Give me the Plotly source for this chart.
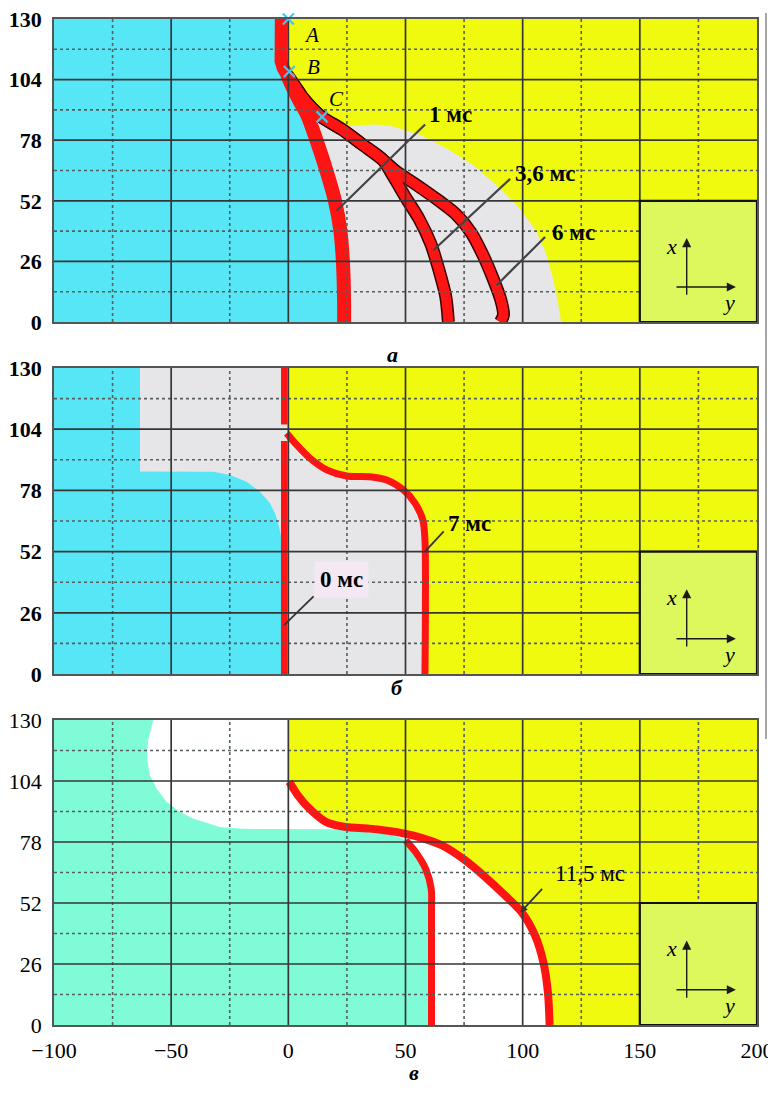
import plotly.graph_objects as go

# ---------------- data ----------------
x_tick_vals = [-100, -50, 0, 50, 100, 150, 200]
y_tick_vals = [0, 26, 52, 78, 104, 130]
x_major = [-50, 0, 50, 100, 150]
y_major = [26, 52, 78, 104]
x_minor = [-75, -25, 25, 75, 125, 175]
y_minor = [13, 39, 65, 91, 117]

# panel а
a_AB_x = [-3.0, -3.4, -2.8, -3.6, -3.1, -2.2, -0.5]
a_AB_y = [130, 125, 120, 116, 112, 109, 106]
a_1ms_x = [-0.5, 1.4, 4.9, 8.0, 11.9, 16.3, 19.9, 22.2, 23.3, 23.8, 23.8]
a_1ms_y = [106, 101.7, 94.6, 89.0, 78.3, 64.8, 52.0, 39.2, 25.7, 8.5, 0]
a_BC_x = [-0.5, 3.0, 5.8, 10.1, 14.4, 22.9, 31.5, 40.1]
a_BC_y = [106, 101, 96.8, 91.8, 87.8, 82.6, 76.2, 69.8]
a_36_x = [45.1, 50.1, 55.8, 60.8, 64.3, 67.2, 68.3]
a_36_y = [61.9, 53.4, 44.2, 33.5, 22.2, 10.8, 0]
a_6_x = [45.8, 54.3, 64.3, 71.5, 77.9, 82.8, 87.1, 90.7, 91.8, 90.5]
a_6_y = [64.8, 59.1, 52.0, 46.3, 38.5, 29.3, 19.3, 9.4, 3.0, 0]
a_grey_edge_x = [22.0, 24.4, 37.2, 44.3, 55.8, 67.2, 78.6, 90.0, 98.5, 105.7, 110.0, 112.8, 114.9, 116.4]
a_grey_edge_y = [85.5, 84.0, 84.7, 84.0, 80.4, 74.7, 67.6, 57.7, 49.1, 39.2, 29.3, 19.3, 9.4, 0]
a_pts_x = [0, 0.4, 14.4]
a_pts_y = [130, 107.5, 88.0]
a_pts_lbl = ["A", "B", "C"]

# panel б
b_0ms_x = [-1.75, -1.75, None, -1.75, -1.75]
b_0ms_y = [0, 99, None, 106, 130]
b_7ms_x = [-0.7, 3.6, 9.3, 16.4, 24.9, 34.9, 42.0, 49.1, 54.1, 57.4, 58.3, 58.3]
b_7ms_y = [102.3, 97.3, 91.6, 86.7, 84.1, 83.8, 82.4, 78.2, 72.5, 65.4, 56.9, 0]
b_cyan_x = [-100, -100, -63.3, -63.3, -32.0, -24.9, -17.8, -12.1, -7.8, -5.7, -4.3, -3.0, -3.0]
b_cyan_y = [0, 130, 130, 86.0, 85.9, 84.5, 81.7, 77.4, 72.5, 68.3, 64.0, 58.0, 0]
b_grey_left = -63.3

# panel в
c_outer_x = [0.4, 4.0, 8.9, 16.0, 24.5, 34.5, 45.8, 55.7, 65.7, 75.6, 84.1, 92.6, 99.7, 105.4, 108.9, 110.8, 111.5]
c_outer_y = [103.7, 98.0, 92.3, 86.6, 84.4, 83.7, 82.3, 80.1, 76.5, 70.1, 63.0, 55.1, 47.9, 37.9, 26.5, 13.6, 0]
c_inner_x = [50.1, 54.3, 58.6, 61.0, 61.1, 61.1]
c_inner_y = [78.7, 73.7, 66.5, 57.9, 49.4, 0]
c_cyan_edge_x = [-57.7, -59.9, -60.3, -59.1, -56.3, -52.0, -46.4, -40.7, -33.6, -29.4, -20.0, 25.0, 38.0, 46.0]
c_cyan_edge_y = [130, 120.9, 113.7, 106.6, 100.9, 95.1, 90.9, 88.0, 85.8, 84.4, 83.6, 83.4, 82.5, 80.5]
c_white_left = -61.0

# inset (coordinate-axes sketch)
inset_x = [150, 200, 200, 150, 150]
inset_y = [0, 0, 52, 52, 0]

# ---------------- style ----------------
FONT = "Liberation Serif"
RED = "#ff1414"
DARKRED = "#3a0000"
YELLOW = "#f0fa0e"
CYAN = "#56e6f6"
AQUA = "#80fbd8"
GREY = "#e6e6e8"
WHITE = "#ffffff"
INSET = "#dcf85c"
GRID = "#363636"
MINOR = "#55605e"

fig = go.Figure()


def axn(n):
    return ("x" if n == 1 else f"x{n}", "y" if n == 1 else f"y{n}")


def poly(n, xs, ys, color):
    xa, ya = axn(n)
    fig.add_trace(go.Scatter(x=xs, y=ys, fill="toself", fillcolor=color, mode="lines",
                             line=dict(width=0, color=color), xaxis=xa, yaxis=ya,
                             hoverinfo="skip", showlegend=False))


def curve(n, xs, ys, width, color=RED, shape="spline"):
    xa, ya = axn(n)
    fig.add_trace(go.Scatter(x=xs, y=ys, mode="lines",
                             line=dict(width=width, color=color, shape=shape, smoothing=0.8),
                             xaxis=xa, yaxis=ya, hoverinfo="skip", showlegend=False,
                             connectgaps=False))


def grid(n):
    xa, ya = axn(n)
    mx, my = [], []
    for v in x_major:
        mx += [v, v, None]
        my += [0, 130, None]
    for v in y_major:
        mx += [-100, 200, None]
        my += [v, v, None]
    nx, ny = [], []
    for v in x_minor:
        nx += [v, v, None]
        ny += [0, 130, None]
    for v in y_minor:
        nx += [-100, 200, None]
        ny += [v, v, None]
    fig.add_trace(go.Scatter(x=nx, y=ny, mode="lines", line=dict(width=1.6, color=MINOR, dash="dot"),
                             xaxis=xa, yaxis=ya, hoverinfo="skip", showlegend=False))
    fig.add_trace(go.Scatter(x=mx, y=my, mode="lines", line=dict(width=1.7, color=GRID),
                             xaxis=xa, yaxis=ya, hoverinfo="skip", showlegend=False))


def inset(n):
    xa, ya = axn(n)
    fig.add_trace(go.Scatter(x=inset_x, y=inset_y, fill="toself", fillcolor=INSET, mode="lines",
                             line=dict(width=2.2, color="#111"), xaxis=xa, yaxis=ya,
                             hoverinfo="skip", showlegend=False))


# ---- panel а ----
poly(1, [-100, -100] + a_AB_x + a_1ms_x, [0, 130] + a_AB_y + a_1ms_y, CYAN)
poly(1, a_BC_x[:5] + a_grey_edge_x + a_1ms_x[::-1], a_BC_y[:5] + a_grey_edge_y + a_1ms_y[::-1], GREY)
curve(1, a_BC_x + a_36_x, a_BC_y + a_36_y, 13, DARKRED)
curve(1, a_BC_x + a_6_x, a_BC_y + a_6_y, 13, DARKRED)
curve(1, a_BC_x + a_36_x, a_BC_y + a_36_y, 10)
curve(1, a_BC_x + a_6_x, a_BC_y + a_6_y, 10)
curve(1, a_AB_x, a_AB_y, 13, shape="linear")
curve(1, a_1ms_x, a_1ms_y, 14)
grid(1)
inset(1)
fig.add_trace(go.Scatter(x=a_pts_x, y=a_pts_y, mode="markers", cliponaxis=False,
                         marker=dict(symbol="x-thin", size=11, line=dict(width=2.2, color="#3cc8f0")),
                         hoverinfo="skip", showlegend=False))

# ---- panel б ----
poly(2, [b_grey_left, 0, 0] + b_7ms_x + [b_grey_left], [130, 130, 103] + b_7ms_y + [0], GREY)
poly(2, b_cyan_x, b_cyan_y, CYAN)
curve(2, b_0ms_x, b_0ms_y, 6.5, shape="linear")
curve(2, b_7ms_x, b_7ms_y, 7)
grid(2)
inset(2)

# ---- panel в ----
poly(3, [c_white_left, 0, 0] + c_outer_x + [c_white_left], [130, 130, 104] + c_outer_y + [0], WHITE)
poly(3, [-100, -100] + c_cyan_edge_x + c_inner_x, [0, 130] + c_cyan_edge_y + c_inner_y, AQUA)
curve(3, c_outer_x, c_outer_y, 8)
curve(3, c_inner_x, c_inner_y, 7)
grid(3)
inset(3)

# ---------------- layout ----------------
# (page body has an 8px margin, so the figure is 768x1088 and offsets are reduced by 8px)
tick_bold = dict(family=FONT, size=22, color="#000", weight="bold")
tick_reg = dict(family=FONT, size=22, color="#000")
axis_common = dict(showgrid=False, zeroline=False, showline=True, mirror=True,
                   linecolor="#555", linewidth=1.5, ticks="", automargin=False,
                   ticklabeloverflow="allow")
dom = [0.0, 1.0]
fig.update_layout(
    template="none",
    width=768, height=1088,
    margin=dict(l=46, r=19, t=11, b=71),
    plot_bgcolor=YELLOW, paper_bgcolor="#ffffff",
    showlegend=False,
    xaxis=dict(axis_common, domain=dom, range=[-100, 200], anchor="y", showticklabels=False),
    yaxis=dict(axis_common, domain=[0.6988, 1.0], range=[0, 130], anchor="x",
               tickvals=y_tick_vals, ticklabelstandoff=6, tickfont=tick_bold),
    xaxis2=dict(axis_common, domain=dom, range=[-100, 200], anchor="y2", showticklabels=False),
    yaxis2=dict(axis_common, domain=[0.3489, 0.6531], range=[0, 130], anchor="x2",
                tickvals=y_tick_vals, ticklabelstandoff=6, tickfont=tick_bold),
    xaxis3=dict(axis_common, domain=dom, range=[-100, 200], anchor="y3",
                tickvals=x_tick_vals, ticklabelstandoff=5, tickfont=tick_reg),
    yaxis3=dict(axis_common, domain=[0.0, 0.3032], range=[0, 130], anchor="x3",
                tickvals=y_tick_vals, ticklabelstandoff=6, tickfont=tick_reg),
)

ann = []
tfont = dict(family=FONT, size=23, color="#000", weight="bold")


def label(n, x, y, text, **kw):
    xa, ya = axn(n)
    d = dict(x=x, y=y, xref=xa, yref=ya, text=text, showarrow=False, font=tfont)
    d.update(kw)
    ann.append(d)


def pointer(n, x0, y0, x1, y1, head=0, color="#333", width=1.8):
    xa, ya = axn(n)
    ann.append(dict(x=x1, y=y1, ax=x0, ay=y0, xref=xa, yref=ya, axref=xa, ayref=ya,
                    text="", showarrow=True, arrowhead=head, arrowsize=0.8,
                    arrowwidth=width, arrowcolor=color, standoff=0, startstandoff=0))


# panel а labels
label(1, 69.4, 89.1, "1 мс")
label(1, 109.5, 63.9, "3,6 мс")
label(1, 121.6, 38.5, "6 мс")
pointer(1, 59.0, 85.4, 20.6, 47.7, color="#444", width=2.2)
pointer(1, 95.3, 62.0, 61.8, 30.7, color="#444", width=2.2)
pointer(1, 110.2, 37.1, 88.9, 15.8, color="#444", width=2.2)
for px_, py_, t in zip([5.8, 7.3, 16.4], [123.0, 109.5, 95.5], a_pts_lbl):
    label(1, px_, py_, f"<i>{t}</i>", font=dict(family=FONT, size=21, color="#000"), xanchor="left")

# panel б labels
label(2, 77.5, 64.1, "7 мс")
pointer(2, 66.9, 61.2, 58.3, 52.0)
label(2, 22.7, 40.0, "0 мс", bgcolor="#f4e8f4", borderpad=5)
pointer(2, 11.4, 33.6, -1.8, 20.8)

# panel в labels
label(3, 128.9, 64.4, "11,5 мс", font=dict(family=FONT, size=23, color="#000"))
pointer(3, 108.9, 58.7, 99.0, 47.9, head=2)

# inset axes sketches
for n in (1, 2, 3):
    xa, ya = axn(n)
    for (hx, hy, tx, ty) in [(170, 36, 170, 11), (191, 15, 165, 15)]:
        ann.append(dict(x=hx, y=hy, ax=tx, ay=ty, xref=xa, yref=ya, axref=xa, ayref=ya,
                        text="", showarrow=True, arrowhead=2, arrowsize=1.3, arrowwidth=1.4,
                        arrowcolor="#1a1a1a", standoff=0))
    label(n, 163.5, 32.5, "<i>x</i>", font=dict(family=FONT, size=22, color="#000"))
    label(n, 188.0, 8.5, "<i>y</i>", font=dict(family=FONT, size=22, color="#000"))

# panel letters
for px_, py_, t in [(0.4822, 0.6809, "а"), (0.4879, 0.3350, "б"), (0.5121, -0.0616, "в")]:
    ann.append(dict(x=px_, y=py_, xref="paper", yref="paper", text=f"<b><i>{t}</i></b>",
                    showarrow=False, font=dict(family=FONT, size=22, color="#000")))

fig.update_layout(annotations=ann)

# page border line on the right
fig.add_shape(type="line", xref="paper", yref="paper", x0=1.0128, x1=1.0128, y0=0.2843, y1=1.006,
              line=dict(color="#888", width=1.5))

fig.write_html("out.html")
